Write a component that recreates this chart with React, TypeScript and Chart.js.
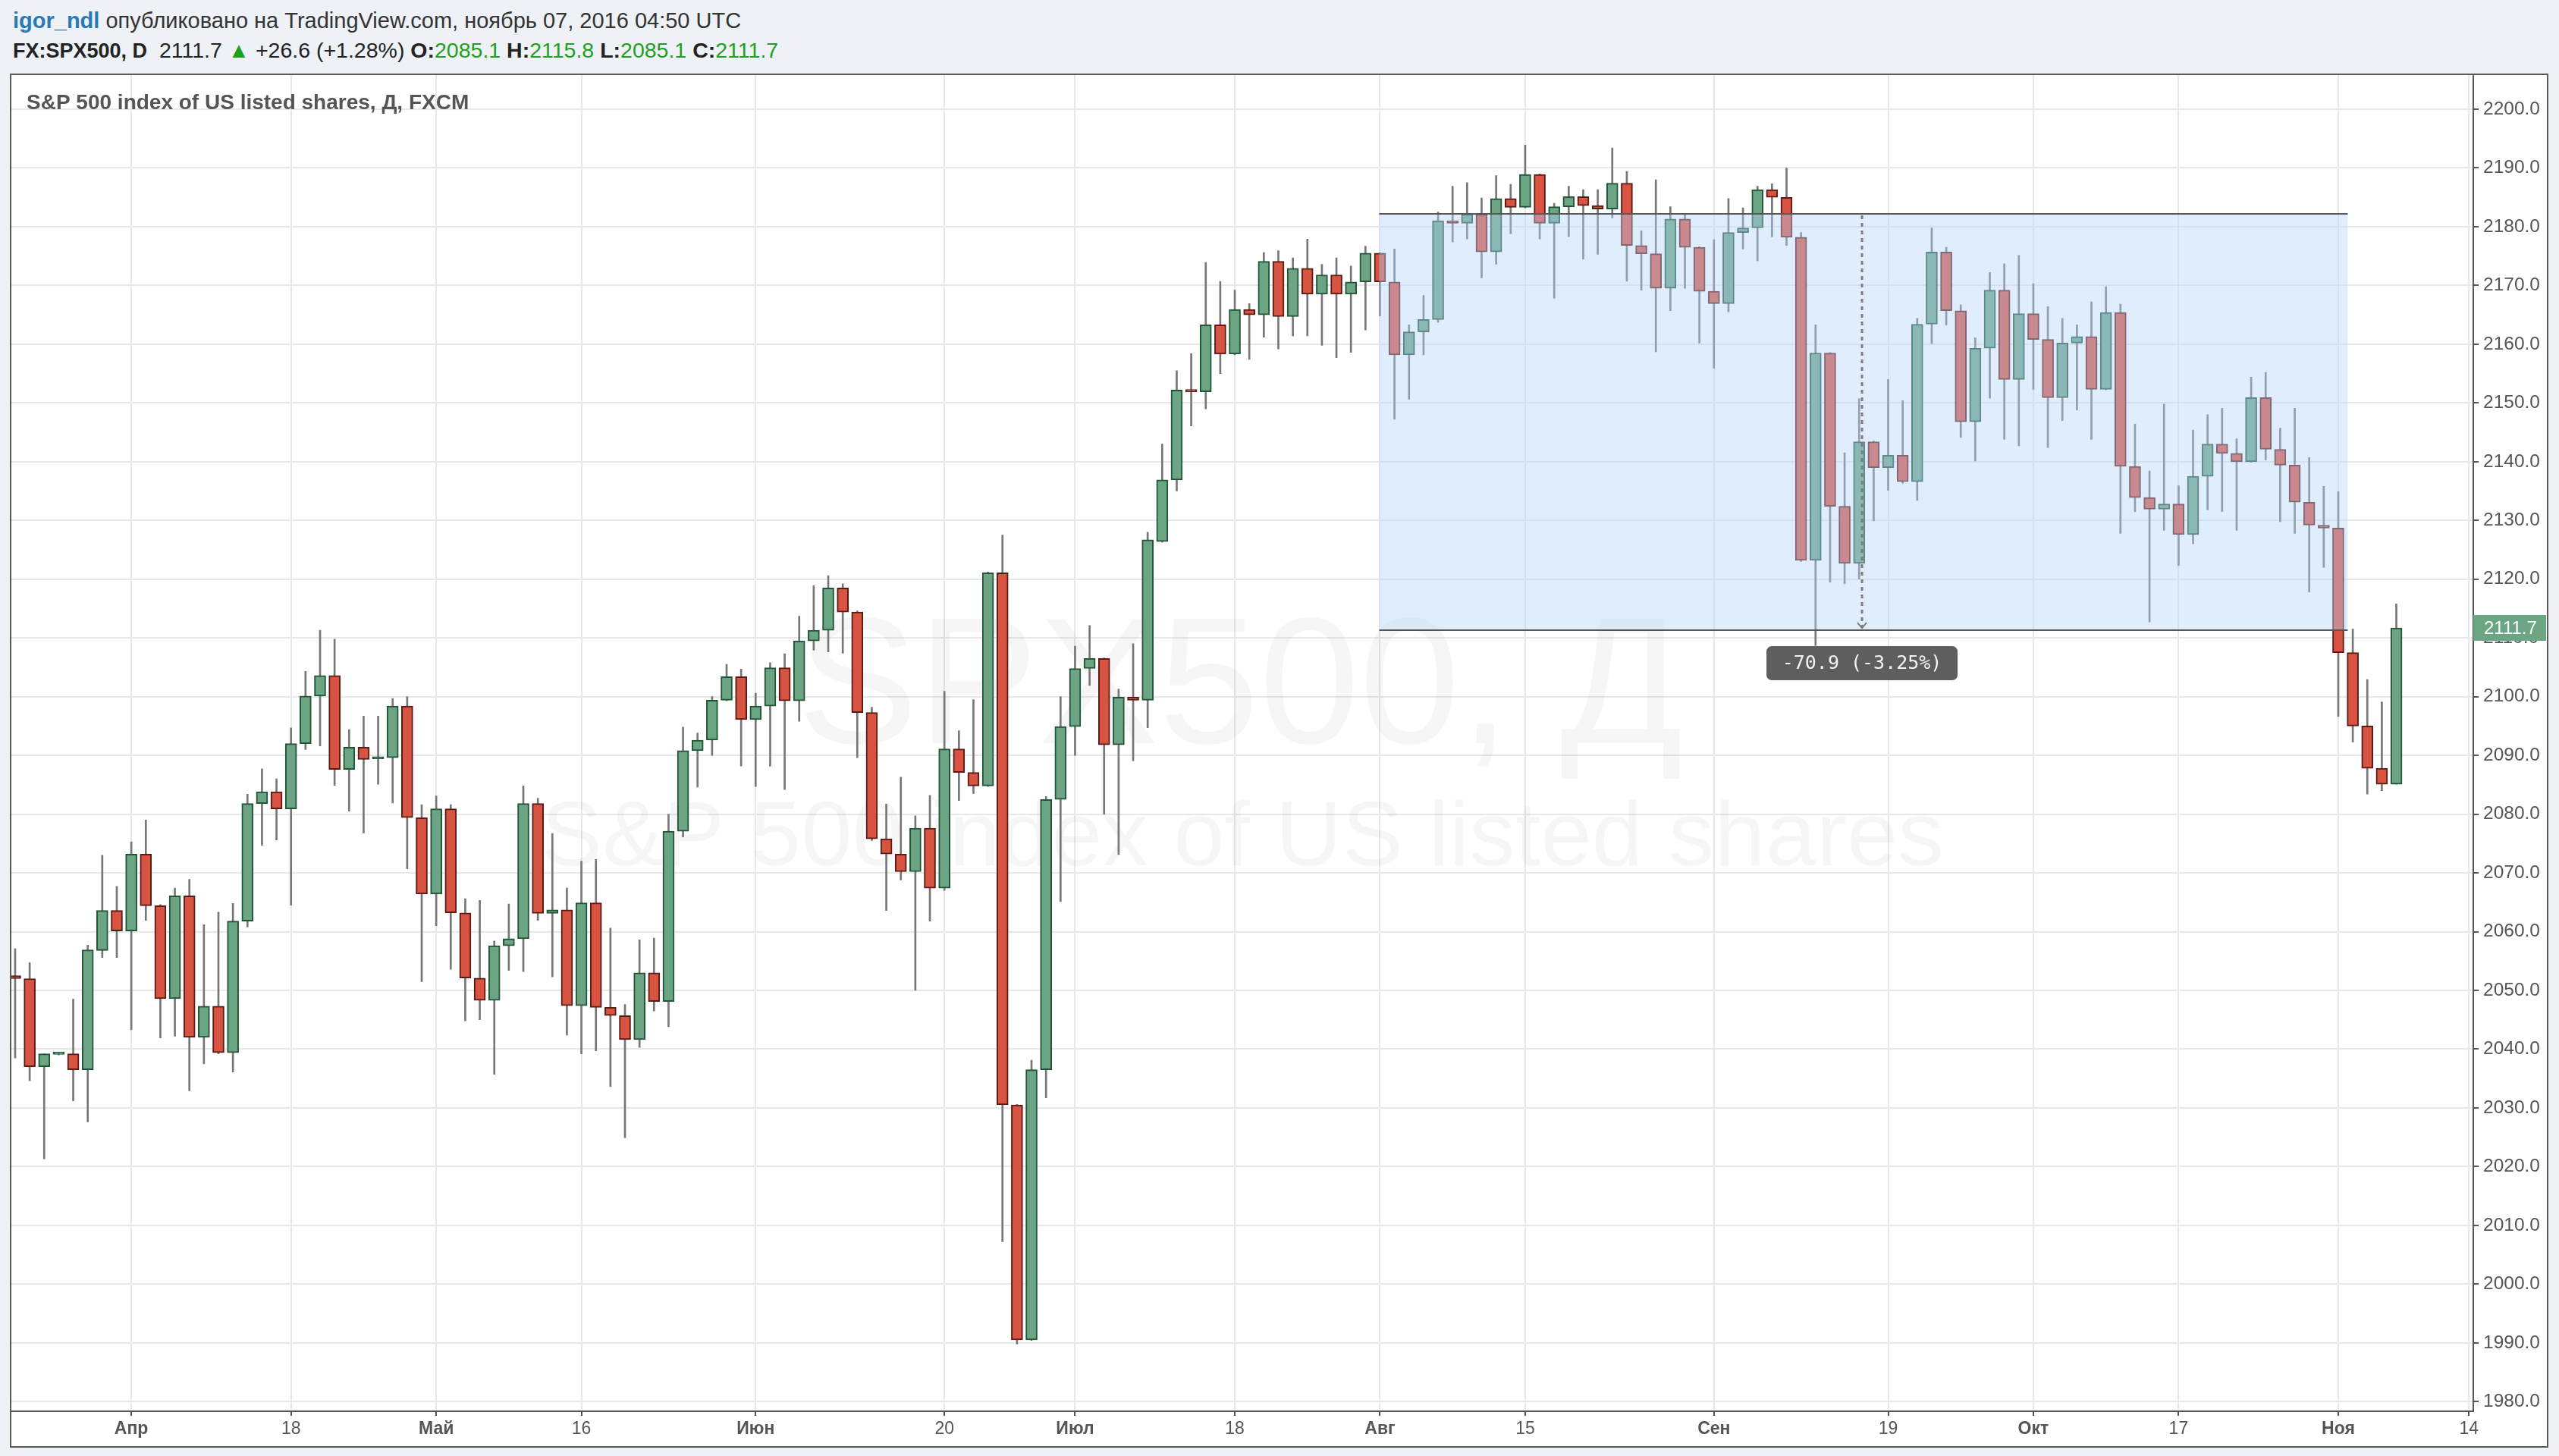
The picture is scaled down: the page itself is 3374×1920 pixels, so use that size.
import React, { useEffect, useRef } from "react";
import { Chart, registerables } from "chart.js";

Chart.register(...registerables);

// ---- data (FX:SPX500, daily, FXCM) ----
const dates = [
  "03-22","03-23","03-24","03-25","03-28","03-29","03-30","03-31","04-01",
  "04-04","04-05","04-06","04-07","04-08","04-11","04-12","04-13","04-14","04-15",
  "04-18","04-19","04-20","04-21","04-22","04-25","04-26","04-27","04-28","04-29",
  "05-02","05-03","05-04","05-05","05-06","05-09","05-10","05-11","05-12","05-13",
  "05-16","05-17","05-18","05-19","05-20","05-23","05-24","05-25","05-26","05-27",
  "05-30","05-31","06-01","06-02","06-03","06-06","06-07","06-08","06-09","06-10",
  "06-13","06-14","06-15","06-16","06-17","06-20","06-21","06-22","06-23","06-24",
  "06-27","06-28","06-29","06-30","07-01","07-04","07-05","07-06","07-07","07-08",
  "07-11","07-12","07-13","07-14","07-15","07-18","07-19","07-20","07-21","07-22",
  "07-25","07-26","07-27","07-28","07-29","08-01","08-02","08-03","08-04","08-05",
  "08-08","08-09","08-10","08-11","08-12","08-15","08-16","08-17","08-18","08-19",
  "08-22","08-23","08-24","08-25","08-26","08-29","08-30","08-31","09-01","09-02",
  "09-05","09-06","09-07","09-08","09-09","09-12","09-13","09-14","09-15","09-16",
  "09-19","09-20","09-21","09-22","09-23","09-26","09-27","09-28","09-29","09-30",
  "10-03","10-04","10-05","10-06","10-07","10-10","10-11","10-12","10-13","10-14",
  "10-17","10-18","10-19","10-20","10-21","10-24","10-25","10-26","10-27","10-28",
  "10-31","11-01","11-02","11-03","11-04","11-07"
];
const futureDates = ["11-08", "11-09", "11-10", "11-11", "11-14", "11-15"];

const opens = [
  2052.5,2052.0,2037.0,2039.1,2039.2,2036.5,2056.8,2063.6,2060.1,
  2073.2,2064.4,2048.6,2066.1,2042.0,2047.3,2039.4,2061.8,2081.8,2083.8,
  2080.9,2092.0,2100.1,2103.6,2087.6,2091.4,2089.4,2089.6,2098.4,2079.4,
  2066.4,2080.9,2063.2,2052.1,2048.3,2057.6,2058.8,2081.8,2063.1,2063.7,
  2047.4,2064.9,2047.1,2045.7,2041.6,2053.0,2048.1,2077.1,2090.8,2092.6,
  2099.4,2103.4,2096.1,2098.4,2104.9,2099.3,2109.5,2111.3,2118.5,2114.4,
  2097.3,2075.8,2073.2,2070.2,2077.6,2067.4,2091.1,2087.1,2084.8,2121.1,
  2030.5,1990.5,2036.5,2082.5,2094.9,2104.8,2106.5,2091.8,2099.9,2099.4,
  2126.4,2136.9,2152.3,2151.9,2163.3,2158.3,2165.9,2165.0,2174.1,2164.7,
  2172.9,2168.5,2171.8,2168.5,2170.6,2175.5,2170.6,2158.2,2162.1,2164.2,
  2181.0,2180.6,2182.1,2175.7,2184.8,2183.3,2188.9,2180.6,2183.4,2185.1,
  2183.6,2183.0,2187.4,2176.8,2175.4,2169.5,2181.3,2176.5,2169.0,2166.9,
  2179.0,2179.8,2186.3,2185.0,2178.2,2123.2,2158.5,2132.4,2122.7,2143.4,
  2139.0,2141.1,2136.6,2163.4,2175.7,2165.7,2146.8,2159.3,2169.2,2154.0,
  2165.2,2160.8,2150.9,2160.2,2161.3,2152.3,2165.4,2139.2,2133.9,2131.9,
  2132.8,2127.6,2137.5,2143.0,2141.4,2140.0,2150.9,2142.1,2139.4,2133.1,
  2129.2,2128.7,2107.5,2095.0,2087.8,2085.1
];
const highs = [
  2057.1,2054.7,2039.2,2039.3,2048.5,2057.7,2073.0,2067.7,2075.3,
  2079.0,2064.6,2067.4,2068.9,2061.2,2063.3,2064.8,2083.4,2087.7,2086.0,
  2094.7,2104.3,2111.3,2109.8,2094.4,2096.7,2096.7,2099.7,2100.0,2081.6,
  2083.1,2081.6,2065.6,2065.3,2058.4,2064.7,2084.8,2082.7,2076.7,2067.4,
  2072.0,2072.3,2060.6,2047.6,2058.6,2058.9,2080.0,2094.8,2093.8,2100.0,
  2105.5,2104.7,2100.6,2105.8,2107.3,2113.7,2118.9,2120.6,2119.2,2114.6,
  2098.2,2081.7,2086.3,2079.7,2083.2,2100.9,2094.2,2099.5,2121.2,2127.5,
  2030.6,2038.1,2083.0,2100.0,2108.6,2112.1,2106.6,2101.3,2109.0,2128.0,
  2143.0,2155.5,2158.4,2173.9,2170.7,2169.2,2166.9,2175.6,2175.9,2174.7,
  2177.9,2173.6,2174.7,2173.3,2176.7,2175.6,2176.2,2163.3,2168.3,2182.5,
  2186.9,2187.5,2184.9,2188.7,2187.2,2193.9,2189.0,2184.0,2186.9,2186.3,
  2186.3,2193.4,2189.4,2179.3,2188.0,2183.4,2182.0,2176.6,2177.8,2184.8,
  2183.2,2186.9,2187.3,2190.0,2179.0,2163.3,2158.6,2141.5,2150.7,2143.5,
  2154.0,2150.4,2164.4,2179.8,2176.5,2166.7,2161.1,2172.2,2173.7,2175.1,
  2170.3,2166.4,2164.4,2163.3,2167.2,2169.8,2166.8,2146.4,2138.4,2149.8,
  2135.9,2145.4,2148.0,2149.1,2143.9,2154.4,2155.2,2145.7,2149.1,2140.7,
  2135.8,2134.9,2111.5,2102.9,2099.1,2115.8
];
const lows = [
  2038.5,2034.6,2021.3,2039.0,2031.2,2027.6,2055.6,2055.6,2043.3,
  2061.9,2041.9,2042.2,2032.9,2037.5,2039.2,2036.1,2060.8,2074.7,2075.6,
  2064.5,2091.0,2091.6,2084.9,2080.5,2076.8,2085.1,2081.9,2070.7,2051.5,
  2061.0,2053.6,2044.8,2045.0,2035.7,2053.4,2053.2,2061.9,2052.3,2042.4,
  2039.2,2039.7,2033.6,2024.9,2040.3,2046.5,2043.8,2076.1,2084.6,2090.0,
  2099.3,2088.2,2084.7,2088.2,2084.2,2095.8,2107.9,2107.6,2107.4,2089.6,
  2075.5,2063.6,2068.8,2050.0,2061.8,2067.0,2082.3,2083.5,2084.7,2007.2,
  1989.8,1990.4,2031.7,2065.1,2090.0,2101.9,2080.0,2073.1,2089.1,2094.7,
  2126.3,2135.0,2146.1,2149.0,2155.0,2158.2,2157.4,2161.2,2159.2,2161.4,
  2161.4,2159.8,2157.7,2158.6,2162.4,2164.8,2147.2,2150.6,2158.2,2163.7,
  2177.4,2177.9,2171.3,2173.6,2178.8,2183.2,2177.9,2167.8,2178.3,2174.5,
  2175.3,2181.5,2170.7,2169.2,2158.7,2165.7,2169.5,2160.2,2155.9,2165.5,
  2176.2,2174.2,2178.3,2176.8,2123.0,2108.7,2119.5,2119.2,2120.0,2129.9,
  2135.1,2136.3,2133.4,2160.1,2163.3,2144.1,2140.1,2150.8,2143.8,2142.7,
  2152.3,2142.4,2147.0,2148.8,2143.8,2152.2,2127.8,2131.5,2112.7,2128.3,
  2122.3,2126.0,2131.8,2131.5,2128.3,2139.9,2140.3,2129.8,2127.8,2117.8,
  2122.0,2096.6,2092.3,2083.4,2084.0,2085.1
];
const closes = [
  2052.0,2037.0,2039.2,2039.2,2036.5,2056.9,2063.6,2060.1,2073.2,
  2064.4,2048.6,2066.1,2042.0,2047.3,2039.4,2061.8,2081.8,2083.8,2080.9,
  2092.0,2100.1,2103.6,2087.6,2091.4,2089.3,2089.7,2098.4,2079.4,2066.4,
  2080.9,2063.2,2052.1,2048.3,2057.6,2058.8,2081.8,2063.1,2063.7,2047.4,
  2064.9,2047.1,2045.7,2041.6,2053.0,2048.1,2077.1,2090.8,2092.6,2099.4,
  2103.4,2096.1,2098.4,2104.9,2099.3,2109.5,2111.3,2118.5,2114.4,2097.3,
  2075.8,2073.2,2070.2,2077.6,2067.4,2091.1,2087.1,2084.8,2121.1,2030.5,
  1990.5,2036.5,2082.5,2094.9,2104.8,2106.5,2091.8,2099.9,2099.4,2126.7,
  2136.9,2152.2,2151.9,2163.3,2158.3,2165.9,2165.0,2174.1,2164.7,2172.9,
  2168.5,2171.8,2168.5,2170.6,2175.5,2170.6,2158.2,2162.1,2164.2,2181.0,
  2180.6,2182.1,2175.7,2184.8,2183.3,2188.9,2180.6,2183.4,2185.1,2183.6,
  2183.0,2187.4,2176.8,2175.4,2169.5,2181.3,2176.5,2169.0,2166.9,2179.0,
  2179.8,2186.3,2185.0,2178.2,2123.2,2158.5,2132.4,2122.7,2143.4,2139.0,
  2141.1,2136.6,2163.4,2175.7,2165.7,2146.8,2159.3,2169.2,2154.0,2165.2,
  2160.8,2150.9,2160.2,2161.3,2152.3,2165.4,2139.2,2133.9,2131.9,2132.8,
  2127.6,2137.5,2143.0,2141.4,2140.0,2150.9,2142.1,2139.4,2133.1,2129.2,
  2128.7,2107.5,2095.0,2087.8,2085.1,2111.7
];

// ---- axis tick labels ----
const tickDates = ["04-01","04-18","05-02","05-16","06-01","06-20","07-01","07-18","08-01","08-15","09-01","09-19","10-03","10-17","11-01","11-14"];
const tickLabels = ["Апр","18","Май","16","Июн","20","Июл","18","Авг","15","Сен","19","Окт","17","Ноя","14"];
const monthLabels = ["Апр","Май","Июн","Июл","Авг","Сен","Окт","Ноя"];

// ---- drawing (rectangle + price range measure), anchored in bar index / price ----
const rectRange = [93.95, 160.65];
const rectPrices = [2111.3, 2182.2];
const measureAt = 127.2;

const FONT = "'Liberation Sans', Arial, sans-serif";
const UP = "#6ba583";
const UP_BORDER = "#225437";
const DOWN = "#d75442";
const DOWN_BORDER = "#5b1a13";
const GRID = "#e8e8e8";
const AXIS = "#555555";

const PANEL_W = 3343;
const PANEL_H = 1808;

const allDates = [...dates, ...futureDates];
const tickIdx = tickDates.map((d) => allDates.indexOf(d));

function makeChart(canvas: HTMLCanvasElement) {
  const n = dates.length;
  const isUp = (i: number) => closes[i] >= opens[i];

  const overlayPlugin = {
    id: "tvOverlay",
    beforeDatasetsDraw(chart: any) {
      const { ctx, chartArea } = chart;
      const cx = (chartArea.left + chartArea.right) / 2;
      ctx.save();
      ctx.fillStyle = "rgba(0,0,0,0.035)";
      ctx.textAlign = "center";
      ctx.textBaseline = "middle";
      ctx.font = `238px ${FONT}`;
      ctx.fillText("SPX500, Д", cx - 3, chartArea.top + 816);
      ctx.font = `121px ${FONT}`;
      ctx.fillText("S&P 500 index of US listed shares", cx, chartArea.top + 1009);
      ctx.restore();
    },
    afterDatasetsDraw(chart: any) {
      const { ctx, scales, chartArea } = chart;
      const xs = scales.x, ys = scales.y;
      const x1 = xs.getPixelForValue(rectRange[0]);
      const x2 = xs.getPixelForValue(rectRange[1]);
      const yTop = ys.getPixelForValue(rectPrices[1]);
      const yBot = ys.getPixelForValue(rectPrices[0]);
      ctx.save();
      ctx.beginPath();
      ctx.rect(chartArea.left, chartArea.top, chartArea.right - chartArea.left, chartArea.bottom - chartArea.top);
      ctx.clip();
      ctx.fillStyle = "rgba(180,212,250,0.42)";
      ctx.fillRect(x1, yTop, x2 - x1, yBot - yTop);
      ctx.strokeStyle = "#555";
      ctx.lineWidth = 2;
      ctx.beginPath();
      ctx.moveTo(x1, yTop); ctx.lineTo(x2, yTop);
      ctx.moveTo(x1, yBot); ctx.lineTo(x2, yBot);
      ctx.stroke();

      // measure line
      const mx = xs.getPixelForValue(measureAt);
      ctx.strokeStyle = "rgba(120,120,120,0.95)";
      ctx.lineWidth = 3;
      ctx.setLineDash([5, 5]);
      ctx.beginPath();
      ctx.moveTo(mx, yTop + 2);
      ctx.lineTo(mx, yBot - 3);
      ctx.stroke();
      ctx.setLineDash([]);
      ctx.lineWidth = 2;
      ctx.beginPath();
      ctx.moveTo(mx - 6, yBot - 10);
      ctx.lineTo(mx, yBot - 3);
      ctx.lineTo(mx + 6, yBot - 10);
      ctx.stroke();

      // measure label
      const diff = rectPrices[0] - rectPrices[1];
      const pct = (diff / rectPrices[1]) * 100;
      const label = `${diff.toFixed(1)} (${pct.toFixed(2)}%)`;
      const bw = 252, bh = 45, bx = mx - bw / 2, by = yBot + 21;
      ctx.fillStyle = "rgba(85,85,85,0.95)";
      ctx.beginPath();
      (ctx as any).roundRect(bx, by, bw, bh, 7);
      ctx.fill();
      ctx.fillStyle = "#f2f2f2";
      ctx.font = `25px 'DejaVu Sans Mono', monospace`;
      ctx.textAlign = "center";
      ctx.textBaseline = "middle";
      ctx.fillText(label, bx + bw / 2, by + bh / 2 + 1);
      ctx.restore();
    },
    afterDraw(chart: any) {
      const { ctx, scales, chartArea } = chart;
      const ys = scales.y;
      ctx.save();
      ctx.fillStyle = "#555";
      ctx.font = `bold 28px ${FONT}`;
      ctx.textBaseline = "middle";
      ctx.textAlign = "left";
      ctx.fillText("S&P 500 index of US listed shares, Д, FXCM", chartArea.left + 20, chartArea.top + 38);
      const last = closes[n - 1];
      const py = ys.getPixelForValue(last);
      ctx.fillStyle = UP;
      ctx.fillRect(chartArea.right, py - 17, 96, 34);
      ctx.fillStyle = "#ffffff";
      ctx.font = `24px ${FONT}`;
      ctx.fillText(last.toFixed(1), chartArea.right + 14, py + 1);
      ctx.restore();
    },
  };

  return new Chart(canvas, {
    type: "bar",
    data: {
      datasets: [
        {
          label: "wick",
          data: dates.map((_, i) => ({ x: i, y: [lows[i], highs[i]] })) as any,
          backgroundColor: "#777777",
          barThickness: 2,
          grouped: false,
          order: 2,
          minBarLength: 1,
        } as any,
        {
          label: "body",
          data: dates.map((_, i) => ({ x: i, y: [opens[i], closes[i]] })) as any,
          backgroundColor: dates.map((_, i) => (isUp(i) ? UP : DOWN)),
          borderColor: dates.map((_, i) => (isUp(i) ? UP_BORDER : DOWN_BORDER)),
          borderWidth: 2,
          borderSkipped: false,
          barThickness: 15,
          grouped: false,
          order: 1,
          minBarLength: 3,
        } as any,
      ],
    },
    options: {
      animation: false,
      responsive: false,
      maintainAspectRatio: false,
      layout: { padding: 0 },
      plugins: { legend: { display: false }, tooltip: { enabled: false } },
      scales: {
        x: {
          type: "linear",
          min: -0.26,
          max: 169.3,
          offset: false,
          grid: { color: GRID, lineWidth: 2, offset: false, tickLength: 6, tickColor: AXIS, tickWidth: 2 } as any,
          border: { display: true, color: AXIS, width: 2 },
          afterBuildTicks: (s: any) => {
            s.ticks = tickIdx.map((v) => ({ value: v }));
          },
          afterFit: (s: any) => {
            s.height = 46;
          },
          ticks: {
            autoSkip: false,
            maxRotation: 0,
            padding: 4,
            color: AXIS,
            callback: (_v: any, i: number) => tickLabels[i],
            font: (c: any) => ({
              family: FONT,
              size: 23,
              weight: monthLabels.includes(tickLabels[c.index]) ? "bold" : "normal",
            }),
          } as any,
        },
        y: {
          position: "right",
          min: 1978.35,
          max: 2205.85,
          grid: { color: GRID, lineWidth: 2, tickLength: 7, tickColor: AXIS, tickWidth: 2 } as any,
          border: { display: true, color: AXIS, width: 2 },
          afterFit: (s: any) => {
            s.width = 97;
          },
          ticks: {
            stepSize: 10,
            includeBounds: false,
            padding: 6,
            color: AXIS,
            font: { family: FONT, size: 24.5 },
            callback: (v: any) => Number(v).toFixed(1),
          } as any,
        },
      },
    },
    plugins: [overlayPlugin],
  });
}

export default function App() {
  const ref = useRef<HTMLCanvasElement | null>(null);

  useEffect(() => {
    const canvas = ref.current;
    if (!canvas) return;
    // first pass: find the automatic top padding Chart.js reserves, then shift the canvas up by it
    let chart = makeChart(canvas);
    const t = chart.chartArea.top;
    chart.destroy();
    const h = Math.round(PANEL_H + t);
    canvas.width = PANEL_W;
    canvas.height = h;
    canvas.style.width = `${PANEL_W}px`;
    canvas.style.height = `${h}px`;
    canvas.style.marginTop = `${-t}px`;
    chart = makeChart(canvas);
    return () => chart.destroy();
  }, []);

  const green = "#1ea01e";
  const num = { color: green, fontSize: 28.5 } as React.CSSProperties;
  return (
    <div
      style={{
        position: "absolute",
        left: 0,
        top: 0,
        width: 3374,
        height: 1920,
        background: "#eef1f6",
        fontFamily: FONT,
        overflow: "hidden",
      }}
    >
      <div style={{ position: "absolute", left: 17, top: 9, fontSize: 29, lineHeight: "36px", color: "#333", whiteSpace: "nowrap" }}>
        <span style={{ color: "#2a7ab8", fontWeight: "bold" }}>igor_ndl</span> опубликовано на TradingView.com, ноябрь 07, 2016 04:50 UTC
      </div>
      <div style={{ position: "absolute", left: 17, top: 48, fontSize: 28.5, lineHeight: "36px", color: "#222", whiteSpace: "nowrap" }}>
        <b style={{ fontSize: 27 }}>FX:SPX500, D</b>&nbsp; 2111.7 <span style={{ color: green }}>▲</span> +26.6 (+1.28%){" "}
        <b>O:</b><span style={num}>2085.1</span> <b>H:</b><span style={num}>2115.8</span>{" "}
        <b>L:</b><span style={num}>2085.1</span> <b>C:</b><span style={num}>2111.7</span>
      </div>
      <div
        style={{
          position: "absolute",
          left: 13,
          top: 97,
          width: PANEL_W,
          height: PANEL_H,
          border: "2px solid #5a5a5a",
          background: "#ffffff",
          overflow: "hidden",
        }}
      >
        <canvas ref={ref} width={PANEL_W} height={PANEL_H} style={{ width: PANEL_W, height: PANEL_H, display: "block" }} />
      </div>
    </div>
  );
}
